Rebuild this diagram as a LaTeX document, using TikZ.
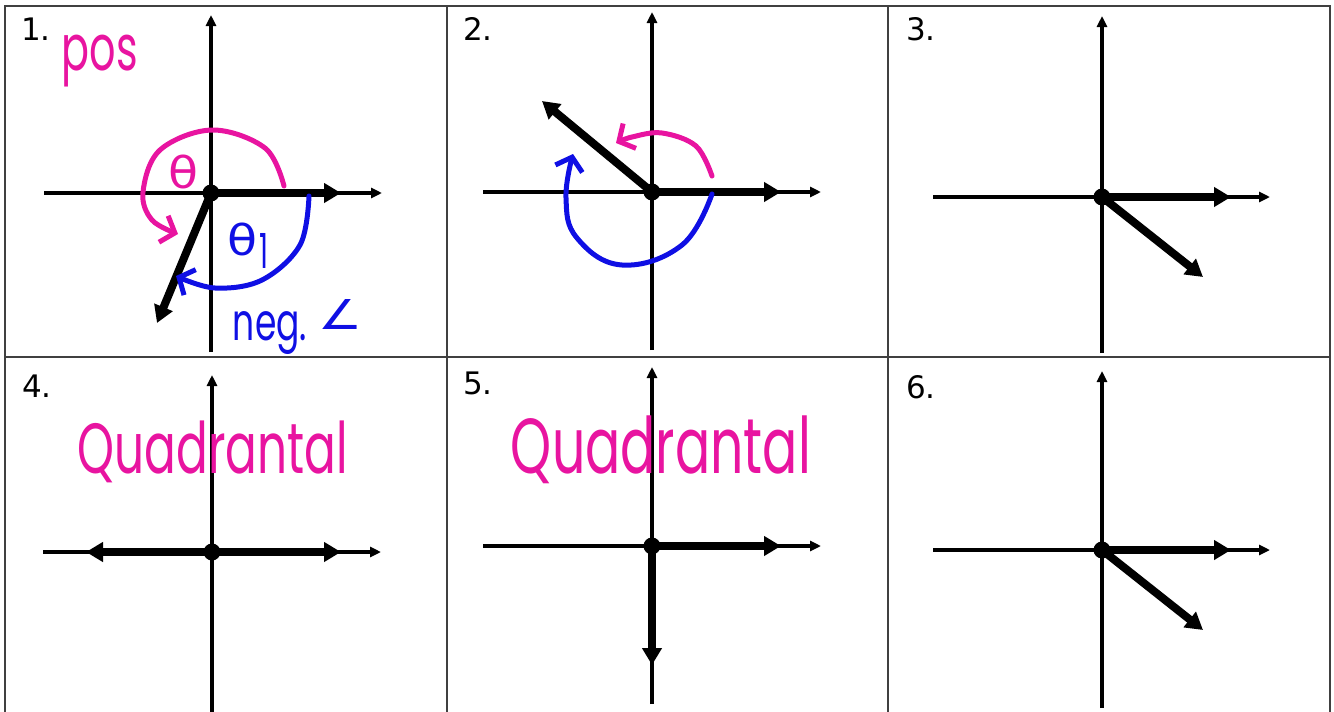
\documentclass[tikz,border=0pt]{standalone}
\usepackage{fontspec}
\setmainfont{DejaVu Sans}
\newfontfamily\hand{Poppins}
\newfontfamily\handsym{DejaVu Sans}
\usetikzlibrary{arrows.meta}
\definecolor{pinkink}{RGB}{232,20,160}
\definecolor{blueink}{RGB}{15,15,228}
\begin{document}
\begin{tikzpicture}[x=1pt,y=-1pt,
  frame/.style={line width=2pt, black!75},
  thinaxis/.style={line width=3.3pt},
  axis/.style={line width=3.3pt,-{Triangle[length=11pt,width=10pt]}},
  ray/.style={line width=8pt,-{Triangle[length=17pt,width=19pt]}},
  ink/.style={line width=5pt,line cap=round,line join=round,-{Straight Barb[length=12pt,width=28pt]}},
  num/.style={font=\fontsize{31}{33}\selectfont, inner sep=0pt, anchor=north west},
  hw/.style={inner sep=0pt, font=\hand},
  dot/.style={circle, fill=black, inner sep=0pt, minimum size=17pt}]
\useasboundingbox (0,0) rectangle (1334,712);
% table frame
\coordinate (tl) at (5,6); \coordinate (tr) at (1330,6);
\coordinate (bl) at (5,714); \coordinate (br) at (1330,714);
\coordinate (ml) at (5,357); \coordinate (mr) at (1330,357);
\coordinate (c1t) at (447,6); \coordinate (c1b) at (447,714);
\coordinate (c2t) at (888,6); \coordinate (c2b) at (888,714);
\draw[frame] (bl) -- (tl) -- (tr) -- (br);
\draw[frame] (ml) -- (mr);
\draw[frame] (c1t) -- (c1b);
\draw[frame] (c2t) -- (c2b);
% numbers
\node[num] (n1) at (21,18) {1.};
\node[num] (n2) at (463,17) {2.};
\node[num] (n3) at (906,17) {3.};
\node[num] (n4) at (22,375) {4.};
\node[num] (n5) at (463,372) {5.};
\node[num] (n6) at (906,375) {6.};

% ---------- panel 1
\coordinate (o1) at (211,193);
\coordinate (x1l) at (44,193); \coordinate (x1r) at (382,193);
\coordinate (y1b) at (211,352); \coordinate (y1t) at (211,15);
\draw[thinaxis] (x1l) -- (o1);
\draw[axis] (o1) -- (x1r);
\draw[thinaxis] (y1b) -- (o1);
\draw[axis] (o1) -- (y1t);
\coordinate (r1a) at (341,193);
\coordinate (r1b) at (157,323);
\draw[ray] (o1) -- (r1a);
\draw[ray] (o1) -- (r1b);
\node[dot] (d1) at (o1) {};
\draw[ink,pinkink] plot[smooth,tension=0.6] coordinates {(284,186) (265,148) (212,130) (160,150) (143,192) (152,220) (178,234)};
\draw[ink,blueink] plot[smooth,tension=0.6] coordinates {(309,196) (300,245) (262,280) (215,288) (176,276)};
\node[hw,text=pinkink] (pos) at (100,61) {\resizebox*{76pt}{52pt}{pos}};
\node[hw,text=pinkink] (th) at (184,172) {\resizebox*{30pt}{34pt}{\handsym θ}};
\node[hw,text=blueink] (th1) at (243,239) {\resizebox*{30pt}{33pt}{\handsym θ}};
\node[hw,text=blueink] (one) at (264,251) {\resizebox*{9pt}{35pt}{1}};
\node[hw,text=blueink] (neg) at (270,333) {\resizebox*{74pt}{43pt}{neg.}};
\node[hw,text=blueink] (ang) at (340,314) {\resizebox*{44pt}{30pt}{\handsym ∠}};

% ---------- panel 2
\coordinate (o2) at (652,192);
\coordinate (x2l) at (483,192); \coordinate (x2r) at (821,192);
\coordinate (y2b) at (652,350); \coordinate (y2t) at (652,12);
\draw[thinaxis] (x2l) -- (o2);
\draw[axis] (o2) -- (x2r);
\draw[thinaxis] (y2b) -- (o2);
\draw[axis] (o2) -- (y2t);
\coordinate (r2a) at (781,192);
\coordinate (r2b) at (542,101);
\draw[ray] (o2) -- (r2a);
\draw[ray] (o2) -- (r2b);
\node[dot] (d2) at (o2) {};
\draw[ink,pinkink] plot[smooth,tension=0.6] coordinates {(712,176) (696,146) (662,133) (632,137) (616,143)};
\draw[ink,blueink] plot[smooth,tension=0.7] coordinates {(712,194) (682,245) (622,265) (577,238) (566,198) (573,154)};

% ---------- panel 3
\coordinate (o3) at (1102,197);
\coordinate (x3l) at (933,197); \coordinate (x3r) at (1270,197);
\coordinate (y3b) at (1102,353); \coordinate (y3t) at (1102,16);
\draw[thinaxis] (x3l) -- (o3);
\draw[axis] (o3) -- (x3r);
\draw[thinaxis] (y3b) -- (o3);
\draw[axis] (o3) -- (y3t);
\coordinate (r3a) at (1231,197);
\coordinate (r3b) at (1203,277);
\draw[ray] (o3) -- (r3a);
\draw[ray] (o3) -- (r3b);
\node[dot] (d3) at (o3) {};

% ---------- panel 4
\coordinate (o4) at (212,552);
\coordinate (x4l) at (43,552); \coordinate (x4r) at (381,552);
\coordinate (y4b) at (212,714); \coordinate (y4t) at (212,375);
\draw[thinaxis] (x4l) -- (o4);
\draw[axis] (o4) -- (x4r);
\draw[thinaxis] (y4b) -- (o4);
\draw[axis] (o4) -- (y4t);
\coordinate (r4a) at (341,552);
\coordinate (r4b) at (86,552);
\draw[ray] (o4) -- (r4a);
\draw[ray] (o4) -- (r4b);
\node[dot] (d4) at (o4) {};
\node[hw,text=pinkink] (q4) at (213,452) {\resizebox*{270pt}{62pt}{Quadrantal}};

% ---------- panel 5
\coordinate (o5) at (652,546);
\coordinate (x5l) at (483,546); \coordinate (x5r) at (821,546);
\coordinate (y5b) at (652,704); \coordinate (y5t) at (652,367);
\draw[thinaxis] (x5l) -- (o5);
\draw[axis] (o5) -- (x5r);
\draw[thinaxis] (y5b) -- (o5);
\draw[axis] (o5) -- (y5t);
\coordinate (r5a) at (781,546);
\coordinate (r5b) at (652,665);
\draw[ray] (o5) -- (r5a);
\draw[ray] (o5) -- (r5b);
\node[dot] (d5) at (o5) {};
\node[hw,text=pinkink] (q5) at (661,450) {\resizebox*{300pt}{68pt}{Quadrantal}};

% ---------- panel 6
\coordinate (o6) at (1102,550);
\coordinate (x6l) at (933,550); \coordinate (x6r) at (1270,550);
\coordinate (y6b) at (1102,708); \coordinate (y6t) at (1102,371);
\draw[thinaxis] (x6l) -- (o6);
\draw[axis] (o6) -- (x6r);
\draw[thinaxis] (y6b) -- (o6);
\draw[axis] (o6) -- (y6t);
\coordinate (r6a) at (1231,550);
\coordinate (r6b) at (1203,630);
\draw[ray] (o6) -- (r6a);
\draw[ray] (o6) -- (r6b);
\node[dot] (d6) at (o6) {};
\end{tikzpicture}
\end{document}
